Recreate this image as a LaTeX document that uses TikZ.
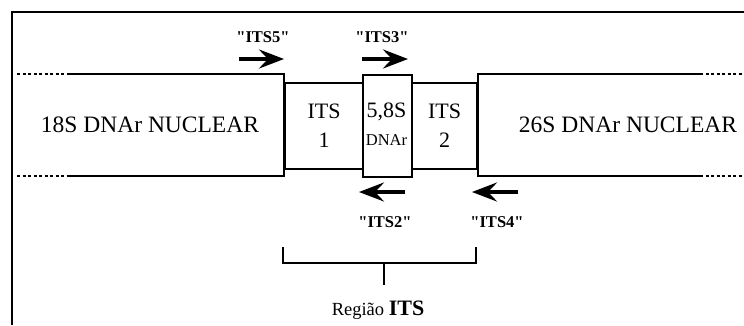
\documentclass[tikz,border=0pt]{standalone}
\usepackage{fontspec}
\setmainfont{Liberation Serif}
\newfontfamily\qfont{Liberation Serif}[Ligatures=TeXOff]
\usetikzlibrary{arrows.meta}
\begin{document}
\begin{tikzpicture}[x=1pt,y=-1pt,
  band/.style={line width=2pt},
  dots/.style={line width=2.2pt, dash pattern=on 3pt off 2.5pt},
  boxline/.style={draw, line width=2pt, inner sep=0pt, anchor=north west},
  primer/.style={line width=4pt, -{Stealth[length=25pt 0,width=19pt 0,inset=9pt 0]}},
  plabel/.style={font=\qfont\fontsize{16.5}{18}\selectfont\bfseries},
  big/.style={font=\fontsize{23.5}{26}\selectfont},
  mid/.style={font=\fontsize{22}{29}\selectfont, align=center},
  frameline/.style={line width=1.5pt}]
\useasboundingbox (0,0) rectangle (744,325);
% frame
\draw[frameline] (12,325) -- (12,12) -- (744,12);
% boxes
\node[boxline, minimum width=78pt, minimum height=86pt] (its1) at (284,82) {};
\node[boxline, minimum width=49pt, minimum height=102pt] (s58) at (362,74) {};
\node[boxline, minimum width=65pt, minimum height=86pt] (its2) at (411,82) {};
% coding regions
\coordinate (l1) at (67,74); \coordinate (l2) at (67,176);
\coordinate (r1) at (700,74); \coordinate (r2) at (700,176);
\coordinate (le1) at (17,74); \coordinate (le2) at (17,176);
\coordinate (re1) at (744,74); \coordinate (re2) at (744,176);
\draw[band] (l1) -- (its1.north west |- l1) -- (its1.north west |- l2) -- (l2);
\draw[band] (r1) -- (its2.north east |- r1) -- (its2.north east |- r2) -- (r2);
\draw[dots] (le1) -- (l1);
\draw[dots] (le2) -- (l2);
\draw[dots] (r1) -- (re1);
\draw[dots] (r2) -- (re2);
% texts
\node[big] (t18) at (150,125) {18S DNAr NUCLEAR};
\node[big] (t26) at (628,125) {26S DNAr NUCLEAR};
\node[mid] (ti1) at (its1.center) {ITS\\1};
\node[mid] (ti2) at (its2.center) {ITS\\2};
\node[font=\fontsize{22}{24}\selectfont, inner sep=0pt] (t58) at (386.5,112) {5,8S};
\node[font=\fontsize{16.5}{18}\selectfont, inner sep=0pt] (tdna) at (386.5,140) {DNAr};
% primers
\coordinate (p5a) at (239,59); \coordinate (p5b) at (284,59);
\coordinate (p3a) at (362,59); \coordinate (p3b) at (408,59);
\coordinate (p2a) at (405,192); \coordinate (p2b) at (359,192);
\coordinate (p4a) at (518,192); \coordinate (p4b) at (472,192);
\draw[primer] (p5a) -- (p5b);
\draw[primer] (p3a) -- (p3b);
\draw[primer] (p2a) -- (p2b);
\draw[primer] (p4a) -- (p4b);
\node[plabel] (l5) at (263,37) {"ITS5"};
\node[plabel] (l3) at (382,37) {"ITS3"};
\node[plabel] (l2t) at (385,222) {"ITS2"};
\node[plabel] (l4) at (497,222) {"ITS4"};
% bracket
\coordinate (b1) at (283,247); \coordinate (b2) at (476,247);
\coordinate (bm) at (384,263); \coordinate (bt) at (384,285);
\draw[line width=2pt] (b1) -- (b1 |- bm) -- (b2 |- bm) -- (b2);
\draw[line width=2pt] (bm) -- (bt);
\node[anchor=base, inner sep=0pt] (reg) at (378,315) {\fontsize{18.5}{20}\selectfont Região\ \fontsize{22}{24}\selectfont\bfseries ITS};
\end{tikzpicture}
\end{document}
